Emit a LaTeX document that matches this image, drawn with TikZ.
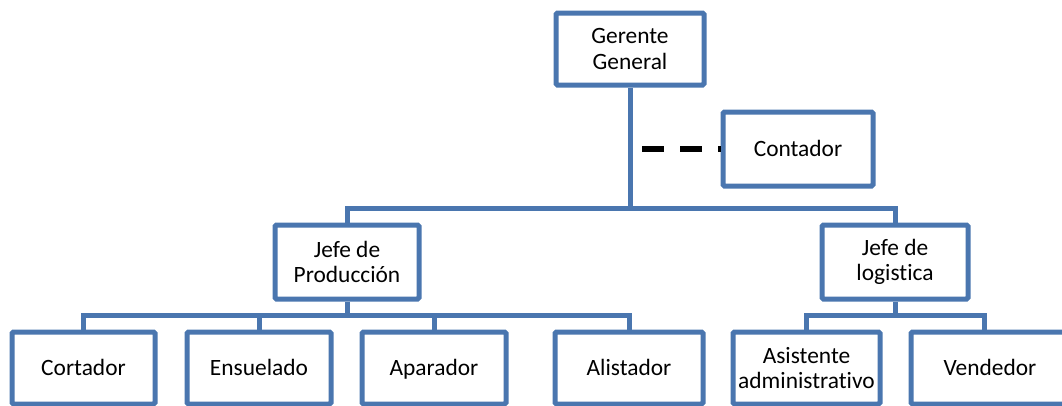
\documentclass[tikz,border=0pt]{standalone}
\usepackage{fontspec}
\setmainfont{Carlito}[Ligatures=NoCommon]
\usetikzlibrary{calc}
\definecolor{orgblue}{RGB}{74,118,175}
\begin{document}
\begin{tikzpicture}[x=1pt,y=-1pt,
  unit/.style={draw=orgblue, line width=5pt, rounded corners=1.5pt, fill=white,
    align=center, inner sep=0pt, font=\fontsize{23.4}{25.5}\selectfont},
  oneline/.style={text height=17pt, text depth=2pt},
  toprow/.style={unit, minimum height=74pt},
  btmrow/.style={unit, minimum height=72pt},
  link/.style={draw=orgblue, line width=5pt},
  staff/.style={draw=black, line width=6pt, dash pattern=on 22pt off 16pt}]
\useasboundingbox (0,0) rectangle (1062,405);

% management
\node[unit, minimum width=148pt, minimum height=72pt] (gg) at (630,49) {Gerente\\General};
\node[unit, oneline, minimum width=150pt, minimum height=74pt] (cont) at (798,149) {Contador};
\node[toprow, minimum width=144pt] (jp) at (347,262) {Jefe de\\Producción};
\node[toprow, minimum width=146pt] (jl) at (895,262) {Jefe de\\logistica};

% staff
\node[btmrow, oneline, minimum width=143pt] (cort) at (83.5,368) {Cortador};
\node[btmrow, oneline, minimum width=144pt] (ens)  at (259,368) {Ensuelado};
\node[btmrow, oneline, minimum width=144pt] (apar) at (434,368) {Aparador};
\node[btmrow, oneline, minimum width=148pt] (alis) at (629,368) {Alistador};
\node[btmrow, minimum width=147pt] (asis) at (806.5,368) {Asistente\\administrativo};
\node[btmrow, oneline, minimum width=158pt] (vend) at (990,368) {Vendedor};

% reporting lines
\draw[link] (gg.south) -- ++(0,120.5);
\draw[link] (jp.north) -- ++(0,-14.5) -| (jl.north);

\draw[link] (jp.south) -- ++(0,13.5);
\draw[link] (cort.north) -- ++(0,-14.5) -| (alis.north);
\draw[link] (ens.north) -- ++(0,-14.5);
\draw[link] (apar.north) -- ++(0,-14.5);

\coordinate (vdrop) at ([xshift=-6pt]vend.north);
\draw[link] (jl.south) -- ++(0,13.5);
\draw[link] (asis.north) -- ++(0,-14.5) -| (vdrop);

% advisory line
\coordinate (dstart) at (642,149);
\draw[staff] (dstart) -- (cont.west);
\end{tikzpicture}
\end{document}
